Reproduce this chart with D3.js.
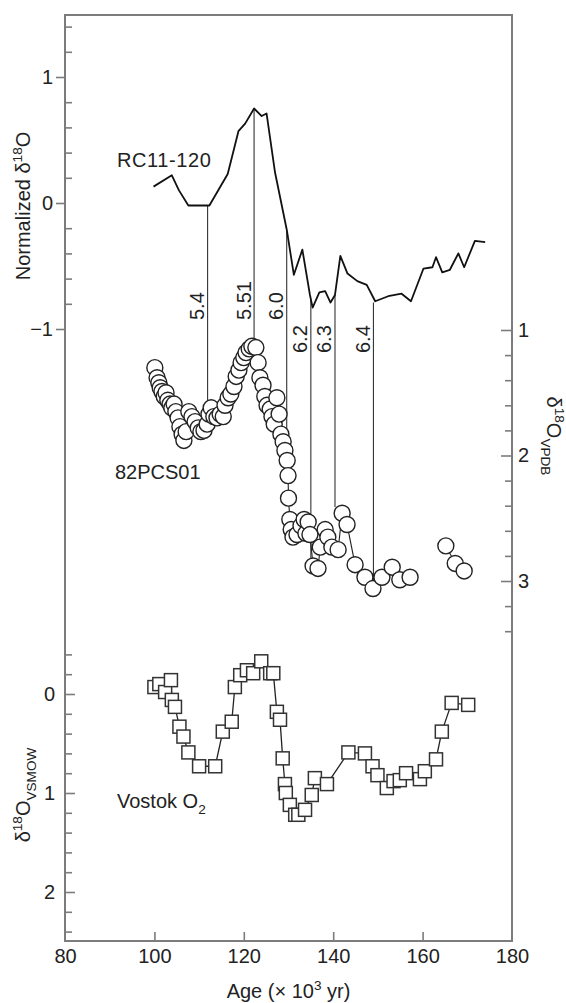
<!DOCTYPE html>
<html><head><meta charset="utf-8">
<script src="https://cdn.jsdelivr.net/npm/d3@7"></script>
<style>
body{margin:0;background:#fff}
text{font-family:"Liberation Sans",Arial,Helvetica,sans-serif;fill:#222}
</style>
</head><body>
<svg id="chart" width="566" height="1003"></svg>
<script>
// ---------- data ----------
const rcAge = [99.8,103.9,105.5,107.6,112.3,116.4,118.8,120.3,122.3,124.0,125.1,127.0,129.6,131.2,133.1,134.8,135.4,136.9,138.2,139.4,140.4,141.6,143.2,145.4,147.5,149.4,152.3,155.3,157.4,160.2,162.2,163.0,164.4,166.1,168.0,169.3,171.7,174.0];
const rcValue = [0.13,0.22,0.10,-0.02,-0.02,0.23,0.57,0.63,0.75,0.69,0.71,0.24,-0.21,-0.57,-0.37,-0.73,-0.83,-0.71,-0.70,-0.79,-0.73,-0.42,-0.56,-0.62,-0.65,-0.78,-0.74,-0.72,-0.78,-0.52,-0.51,-0.43,-0.55,-0.53,-0.40,-0.51,-0.30,-0.31];

const pcsAge = [100.1,100.6,101.0,101.3,101.7,102.2,102.6,103.0,103.5,103.9,104.4,104.8,105.3,105.7,106.2,106.6,107.1,107.7,108.4,109.1,109.8,110.4,111.1,111.8,112.2,112.7,113.3,114.0,114.7,115.4,115.8,116.5,117.1,117.8,118.3,118.9,119.4,120.0,120.5,121.2,121.8,122.7,123.2,123.6,124.3,124.7,125.2,125.9,126.3,126.8,127.4,127.9,128.3,128.8,129.2,129.7,129.9,130.0,130.3,130.6,131.0,131.9,132.8,133.5,133.9,134.4,134.8,135.5,136.6,137.1,138.2,138.8,139.7,141.1,142.0,143.1,144.9,147.1,148.9,150.9,153.2,154.9,157.2,165.2,167.3,169.3];
const pcsValue = [1.30,1.38,1.42,1.46,1.49,1.53,1.50,1.56,1.59,1.62,1.59,1.65,1.70,1.77,1.83,1.88,1.81,1.65,1.69,1.73,1.78,1.81,1.80,1.75,1.67,1.62,1.69,1.70,1.67,1.69,1.60,1.54,1.51,1.45,1.37,1.32,1.26,1.22,1.18,1.15,1.13,1.14,1.26,1.38,1.44,1.53,1.60,1.63,1.69,1.75,1.54,1.67,1.83,1.89,1.96,2.04,2.16,2.34,2.51,2.59,2.65,2.63,2.56,2.51,2.62,2.53,2.63,2.88,2.90,2.73,2.59,2.65,2.73,2.75,2.46,2.55,2.87,2.97,3.06,2.97,2.89,2.99,2.97,2.72,2.86,2.92];

const vosAge = [100.0,101.1,102.4,103.7,103.9,104.6,105.6,106.5,107.6,110.0,113.6,115.3,117.3,118.0,119.2,120.7,122.1,123.9,125.9,126.6,127.4,128.1,128.7,129.2,129.4,130.3,131.5,132.2,133.7,135.2,135.9,138.6,143.4,147.1,148.8,149.9,152.0,153.5,154.9,156.3,159.4,160.5,163.0,164.3,166.5,170.2];
const vosValue = [-0.07,-0.10,-0.02,-0.14,0.06,0.13,0.33,0.43,0.59,0.73,0.73,0.38,0.28,-0.07,-0.19,-0.24,-0.21,-0.33,-0.21,-0.21,0.18,0.26,0.65,0.91,1.00,1.12,1.22,1.22,1.17,1.02,0.85,0.91,0.59,0.60,0.73,0.82,0.95,0.88,0.87,0.80,0.86,0.78,0.66,0.38,0.09,0.11];

const tieLabels = ["5.4","5.51","6.0","6.2","6.3","6.4"];
const tieAge = [111.9,122.3,129.6,135.0,140.4,149.0];
const tieTop = [-0.02,0.75,-0.22,-0.77,-0.73,-0.79];     // normalized d18O (RC11-120)
const tieBottom = [1.58,1.14,1.80,2.86,2.41,3.03];        // d18O VPDB (82PCS01)

const xTicks = [80,100,120,140,160,180];
const rcMajor = [-1,0,1];
const rcMinor = [-0.8,-0.6,-0.4,-0.2,0.2,0.4,0.6,0.8,1.2,1.4];
const pcsMajor = [1,2,3];
const pcsMinor = [1.2,1.4,1.6,1.8,2.2,2.4,2.6,2.8,3.2,3.4];
const vosMajor = [0,1,2];
const vosMinor = [-0.4,-0.2,0.2,0.4,0.6,0.8,1.2,1.4,1.6,1.8,2.2,2.4];

// ---------- layout ----------
const L = 65, R = 512, T = 15, B = 941;
const svg = d3.select("#chart");
const x = d3.scaleLinear().domain([80,180]).range([L,R]);
const yRC = d3.scaleLinear().domain([0,1]).range([203,77]);
const yPCS = d3.scaleLinear().domain([1,3]).range([330,581]);
const yVos = d3.scaleLinear().domain([0,2]).range([694,892]);

const fmt = d => d < 0 ? "\u2212" + Math.abs(d) : String(d);
const axisColor = "#7c7c7c";
const FS = 20;

function styleAxis(g){
  g.select(".domain").remove();
  g.selectAll(".tick line").attr("stroke", axisColor).attr("stroke-width", 1.6);
  g.selectAll(".tick text").attr("font-size", FS).attr("fill","#222")
    .attr("font-family", '"Liberation Sans",Arial,sans-serif');
}

// RC11-120 axis (left, top)
svg.append("g").attr("transform",`translate(${L},0)`)
  .call(d3.axisLeft(yRC).tickValues(rcMajor).tickSize(9).tickPadding(3).tickFormat(fmt)).call(styleAxis);
svg.append("g").attr("transform",`translate(${L},0)`)
  .call(d3.axisRight(yRC).tickValues(rcMinor).tickSize(7).tickFormat("")).call(styleAxis);

// 82PCS01 axis (right)
svg.append("g").attr("transform",`translate(${R},0)`)
  .call(d3.axisLeft(yPCS).tickValues(pcsMajor).tickSize(11).tickFormat("")).call(styleAxis);
svg.append("g").attr("transform",`translate(${R},0)`)
  .call(d3.axisLeft(yPCS).tickValues(pcsMinor).tickSize(7).tickFormat("")).call(styleAxis);
svg.append("g").attr("transform",`translate(${R},0)`)
  .call(d3.axisRight(yPCS).tickValues(pcsMajor).tickSize(0).tickPadding(6).tickFormat(fmt)).call(styleAxis);

// Vostok axis (left, bottom)
svg.append("g").attr("transform",`translate(${L},0)`)
  .call(d3.axisRight(yVos).tickValues(vosMajor).tickSize(10).tickFormat("")).call(styleAxis);
svg.append("g").attr("transform",`translate(${L},0)`)
  .call(d3.axisRight(yVos).tickValues(vosMinor).tickSize(7).tickFormat("")).call(styleAxis);
svg.append("g").attr("transform",`translate(${L},0)`)
  .call(d3.axisLeft(yVos).tickValues(vosMajor).tickSize(0).tickPadding(10).tickFormat(fmt)).call(styleAxis);

// x axis
svg.append("g").attr("transform",`translate(0,${B})`)
  .call(d3.axisTop(x).tickValues(xTicks.slice(1,-1)).tickSize(9).tickFormat("")).call(styleAxis);
svg.append("g").attr("transform",`translate(0,${B})`)
  .call(d3.axisBottom(x).tickValues(xTicks).tickSize(0).tickPadding(8).tickFormat(d3.format("d"))).call(styleAxis);

// frame
svg.append("rect").attr("x",L).attr("y",T).attr("width",R-L).attr("height",B-T)
  .attr("fill","none").attr("stroke",axisColor).attr("stroke-width",2);

// rich text helper
function rich(sel, parts, size){
  let shift = 0;
  parts.forEach(p=>{
    const ts = sel.append("tspan").text(p[0]);
    const target = p[1]==="sup" ? -size*0.42 : p[1]==="sub" ? size*0.32 : 0;
    ts.attr("dy", target - shift);
    if(p[1]) ts.attr("font-size", size*0.68);
    shift = target;
  });
}

// axis titles
rich(svg.append("text").attr("transform","translate(30,206) rotate(-90)")
  .attr("text-anchor","middle").attr("font-size",FS),
  [["Normalized \u03b4"],["18","sup"],["O"]], FS);
rich(svg.append("text").attr("transform","translate(30,795) rotate(-90)")
  .attr("text-anchor","middle").attr("font-size",FS),
  [["\u03b4"],["18","sup"],["O"],["VSMOW","sub"]], FS);
rich(svg.append("text").attr("transform","translate(547,436) rotate(90)")
  .attr("text-anchor","middle").attr("font-size",FS),
  [["\u03b4"],["18","sup"],["O"],["VPDB","sub"]], FS);
rich(svg.append("text").attr("x",(L+R)/2).attr("y",998)
  .attr("text-anchor","middle").attr("font-size",FS),
  [["Age (\u00d7 10"],["3","sup"],[" yr)"]], FS);

// series labels
svg.append("text").attr("x",117).attr("y",167).attr("font-size",FS).attr("letter-spacing",0.6).text("RC11-120");
svg.append("text").attr("x",115).attr("y",479).attr("font-size",FS).text("82PCS01");
rich(svg.append("text").attr("x",117).attr("y",808).attr("font-size",FS),
  [["Vostok O"],["2","sub"]], FS);

// tie lines
const ties = tieLabels.map((t,i)=>({t, age:tieAge[i], top:tieTop[i], bottom:tieBottom[i]}));
svg.append("g").selectAll("line").data(ties).join("line")
  .attr("x1",d=>x(d.age)).attr("x2",d=>x(d.age))
  .attr("y1",d=>yRC(d.top)).attr("y2",d=>yPCS(d.bottom))
  .attr("stroke","#333").attr("stroke-width",1.1);
svg.append("g").selectAll("text").data(ties).join("text")
  .attr("transform",d=>`translate(${x(d.age)-3.5},${yRC(d.top) > 260 ? 353 : 320}) rotate(-90)`)
  .attr("font-size",FS).text(d=>d.t);

// RC11-120 curve
const rc = rcAge.map((a,i)=>({a, v:rcValue[i]}));
svg.append("path").datum(rc)
  .attr("d", d3.line().x(d=>x(d.a)).y(d=>yRC(d.v)))
  .attr("fill","none").attr("stroke","#111").attr("stroke-width",1.8).attr("stroke-linejoin","round");

// 82PCS01 circles
const pcs = pcsAge.map((a,i)=>({a, v:pcsValue[i]}));
const pcsSegs = [];
pcs.forEach((d,i)=>{
  if(i===0 || d.a - pcs[i-1].a > 5) pcsSegs.push([]);
  pcsSegs[pcsSegs.length-1].push(d);
});
svg.append("g").selectAll("path").data(pcsSegs).join("path")
  .attr("d", d3.line().x(d=>x(d.a)).y(d=>yPCS(d.v)))
  .attr("fill","none").attr("stroke","#222").attr("stroke-width",1.1);
svg.append("g").selectAll("circle").data(pcs).join("circle")
  .attr("cx",d=>x(d.a)).attr("cy",d=>yPCS(d.v)).attr("r",8)
  .attr("fill","#fff").attr("stroke","#222").attr("stroke-width",1.4);

// Vostok squares
const vos = vosAge.map((a,i)=>({a, v:vosValue[i]}));
svg.append("path").datum(vos)
  .attr("d", d3.line().x(d=>x(d.a)).y(d=>yVos(d.v)))
  .attr("fill","none").attr("stroke","#222").attr("stroke-width",1.3);
const S = 13;
svg.append("g").selectAll("rect").data(vos).join("rect")
  .attr("x",d=>x(d.a)-S/2).attr("y",d=>yVos(d.v)-S/2).attr("width",S).attr("height",S)
  .attr("fill","#fff").attr("stroke","#333").attr("stroke-width",1.5);
</script>
</body></html>
